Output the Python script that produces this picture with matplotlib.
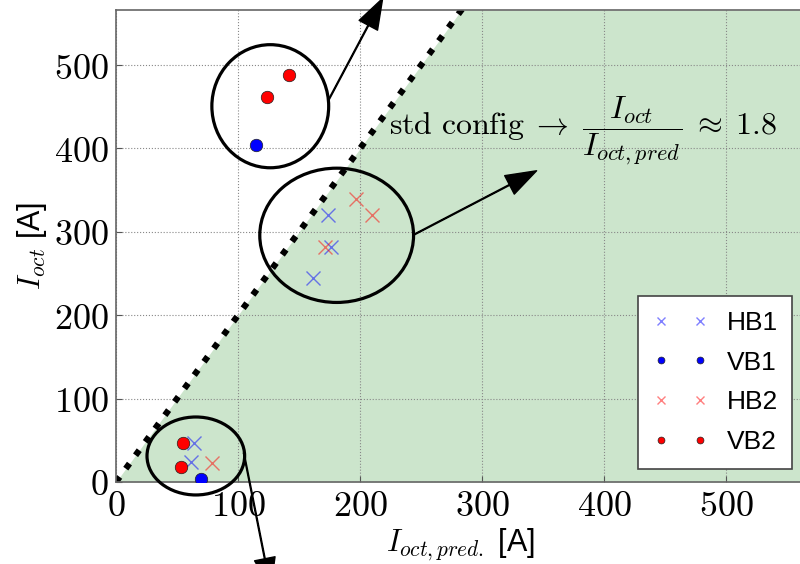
import matplotlib
matplotlib.use("Agg")
import matplotlib.pyplot as plt
from matplotlib.patches import Ellipse
from matplotlib.ticker import FuncFormatter

plt.rcParams["mathtext.fontset"] = "cm"
plt.rcParams["font.family"] = ["Liberation Sans", "DejaVu Sans"]

# data: (I_oct,pred., I_oct)
hb1_x = [63.5, 61.5, 174, 176, 161]
hb1_y = [47, 24, 320.5, 281.7, 245]
vb1_x = [115, 70]
vb1_y = [404, 3.6]
hb2_x = [78.5, 196.6, 210, 171]
hb2_y = [23, 339, 320, 281.7]
vb2_x = [124, 142, 55, 53.5]
vb2_y = [462, 488, 47, 18]

line_x = [0, 300]
line_y = [0, 600]

fig = plt.figure(figsize=(8, 5.64), dpi=100)
ax = fig.add_axes([0.145, 0.1454, 0.862, 0.8369])
ax.set_xlim(0, 565)
ax.set_ylim(0, 566)

# green region under the ratio line
ax.fill_between([0, 283, 600], [0, 566, 566], color="g", alpha=0.2, lw=0, zorder=0)
ax.plot(line_x, line_y, "k:", lw=4.5, zorder=2)

ax.plot(hb1_x, hb1_y, "bx", ms=10, mew=1, alpha=0.5, label="HB1", zorder=3)
ax.plot(vb1_x, vb1_y, "bo", ms=9, mec="#222222", mew=0.5, label="VB1", zorder=3)
ax.plot(hb2_x, hb2_y, "rx", ms=10, mew=1, alpha=0.5, label="HB2", zorder=3)
ax.plot(vb2_x, vb2_y, "ro", ms=9, mec="#222222", mew=0.5, label="VB2", zorder=3)

# groups circled
for (cx, cy, w, h) in [(126.4, 450.6, 95.7, 147.6), (180.8, 295.8, 126, 161), (65.4, 31.2, 80, 93.5)]:
    ax.add_patch(Ellipse((cx, cy), w, h, fill=False, ec="k", lw=2.3, zorder=4, clip_on=False))

ap = dict(facecolor="black", edgecolor="black", width=0.6, headwidth=15, headlength=22, shrink=0)
ax.annotate("", xy=(218.5, 580), xytext=(174.3, 458.4), arrowprops=ap, annotation_clip=False, zorder=5)
ax.annotate("", xy=(344.6, 373.2), xytext=(243.9, 296.4), arrowprops=ap, annotation_clip=False, zorder=5)
ax.annotate("", xy=(126.8, -128), xytext=(104.7, 34.8), arrowprops=ap, annotation_clip=False, zorder=5)

ax.text(224, 421, r"$\mathrm{std\ config}\;\rightarrow\;\dfrac{I_{oct}}{I_{oct,pred}}\;\approx\;1.8$",
        fontsize=23, ha="left", va="center", zorder=6)

ax.set_xticks([0, 100, 200, 300, 400, 500])
ax.set_yticks([0, 100, 200, 300, 400, 500])
fmt = FuncFormatter(lambda v, p: r"$%d$" % v)
ax.xaxis.set_major_formatter(fmt)
ax.yaxis.set_major_formatter(fmt)
ax.tick_params(direction="in", length=4, color="#555555", labelsize=26, pad=5)
ax.grid(True, ls=":", color="#888888", lw=0.8)
ax.set_axisbelow(True)
for s in ax.spines.values():
    s.set_color("#666666")
    s.set_linewidth(1.2)
ax.spines["right"].set_visible(False)

ax.set_xlabel(r"$I_{oct,pred.}$ [A]", fontsize=22, labelpad=2)
ax.set_ylabel(r"$I_{oct}$ [A]", fontsize=22, labelpad=4)

leg = ax.legend(loc="lower right", numpoints=2, markerscale=0.55, fontsize=19,
                fancybox=False, framealpha=1, edgecolor="#444444",
                handlelength=2.1, labelspacing=0.6, borderaxespad=0.5,
                borderpad=0.55, handletextpad=0.7)
leg.get_frame().set_linewidth(1.2)

fig.savefig("out.png", dpi=100)
